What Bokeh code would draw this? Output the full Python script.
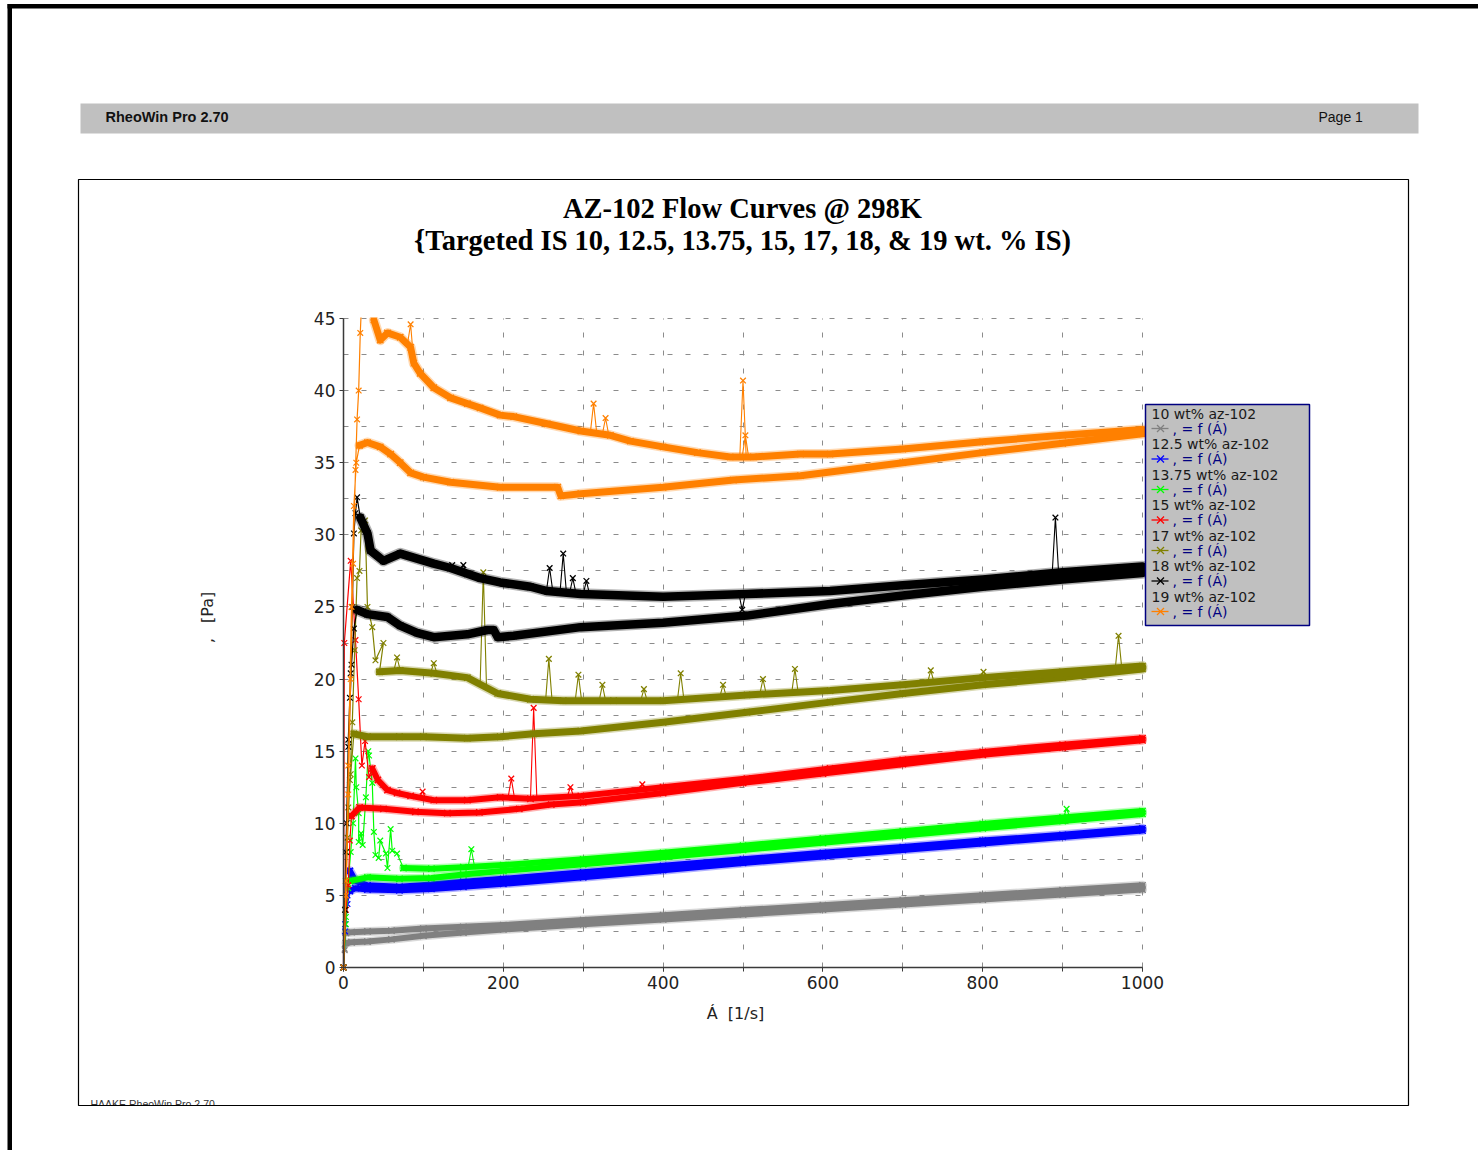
import numpy as np
from bokeh.plotting import figure
from bokeh.models import (Label, BoxAnnotation, Arrow, SingleIntervalTicker, Range1d,
                          LinearAxis, Grid)
from bokeh.embed import file_html
from bokeh.resources import INLINE

# ---------------------------------------------------------------- data
# shear rate [1/s] vs shear stress [Pa]; each sample has an up-ramp,
# a down-ramp, the low-shear start/end trace and isolated spikes.

S10_UP_X = [3, 10, 30, 60, 100, 150, 200, 300, 400, 500, 600, 700, 800, 900, 1000]
S10_UP_Y = [1.7, 1.75, 1.8, 1.95, 2.2, 2.42, 2.64, 2.99, 3.33, 3.68, 4.02, 4.37, 4.71, 5.06, 5.4]
S10_DN_X = [3, 10, 30, 60, 100, 150, 200, 300, 400, 500, 600, 700, 800, 900, 1000]
S10_DN_Y = [2.4, 2.45, 2.5, 2.55, 2.7, 2.82, 2.94, 3.29, 3.63, 3.98, 4.32, 4.67, 5.01, 5.36, 5.7]
S10_LO_X = [3, 1.5, 0, 1.5, 3]
S10_LO_Y = [2.4, 1.3, 0, 1.2, 1.7]
S10_SPK_X = []
S10_SPK_Y = []

S12_UP_X = [8, 15, 30, 70, 110, 150, 200, 300, 400, 500, 600, 700, 800, 900, 1000]
S12_UP_Y = [5.3, 5.5, 5.4, 5.35, 5.45, 5.6, 5.8, 6.25, 6.75, 7.25, 7.7, 8.15, 8.6, 9.05, 9.5]
S12_DN_X = [8, 15, 30, 70, 110, 150, 200, 300, 400, 500, 600, 700, 800, 900, 1000]
S12_DN_Y = [6.7, 6.0, 5.7, 5.6, 5.75, 5.95, 6.15, 6.6, 7.05, 7.5, 7.95, 8.35, 8.8, 9.2, 9.65]
S12_LO_X = [8, 5, 2, 0, 2, 5, 8]
S12_LO_Y = [6.7, 5.0, 3.0, 0, 2.5, 4.4, 5.3]
S12_SPK_X = []
S12_SPK_Y = []

S13_UP_X = [8, 30, 70, 110, 150, 200, 300, 400, 500, 600, 700, 800, 900, 1000]
S13_UP_Y = [6.0, 6.25, 6.15, 6.2, 6.45, 6.7, 7.15, 7.65, 8.15, 8.65, 9.15, 9.65, 10.15, 10.65]
S13_DN_X = [75, 110, 150, 200, 300, 400, 500, 600, 700, 800, 900, 1000]
S13_DN_Y = [6.9, 6.85, 6.95, 7.1, 7.5, 7.95, 8.45, 8.95, 9.45, 9.95, 10.4, 10.85]
S13_LO_X = [75, 67, 61, 59, 55, 53, 46, 44, 40, 38, 36, 32, 31, 28, 24, 22, 19, 19, 16, 15,
            12, 9, 6, 3, 0, 3, 6, 8]
S13_LO_Y = [6.9, 7.9, 8.1, 9.6, 6.9, 7.9, 8.8, 7.6, 7.8, 9.4, 12.8, 14.7, 15.0, 11.8, 8.5, 9.3,
            8.7, 10.7, 12.5, 14.5, 10.0, 8.0, 6.0, 3.0, 0, 3.5, 5.5, 6.0]
S13_SPK_X = [160, 905]
S13_SPK_Y = [8.2, 11.0]

S15_UP_X = [10, 20, 50, 90, 130, 170, 220, 260, 300, 400, 500, 600, 700, 800, 900, 1000]
S15_UP_Y = [10.5, 11.1, 11.0, 10.8, 10.7, 10.75, 11.0, 11.3, 11.45, 12.1, 12.8, 13.45, 14.1,
            14.75, 15.25, 15.75]
S15_DN_X = [36, 43, 55, 67, 84, 113, 155, 196, 234, 297, 400, 505, 609, 700, 800, 900, 1000]
S15_DN_Y = [13.8, 13.0, 12.3, 12.1, 11.9, 11.6, 11.6, 11.8, 11.7, 11.9, 12.5, 13.1, 13.8, 14.4,
            14.95, 15.45, 15.9]
S15_LO_X = [36, 32, 27, 23, 19, 15, 9, 1, 0, 3, 6, 8, 10]
S15_LO_Y = [13.8, 13.2, 15.7, 14.0, 18.6, 22.7, 28.2, 22.5, 0, 4.0, 5.7, 8.8, 10.5]
S15_SPK_X = [99, 210, 238, 284, 374]
S15_SPK_Y = [12.2, 13.1, 18.0, 12.5, 12.7]

S17_UP_X = [13, 30, 70, 100, 155, 196, 238, 297, 400, 505, 609, 700, 800, 900, 1000]
S17_UP_Y = [16.2, 16.0, 16.0, 16.0, 15.9, 16.0, 16.2, 16.4, 17.0, 17.7, 18.4, 19.0, 19.6, 20.1, 20.7]
S17_DN_X = [45, 71, 113, 155, 193, 234, 275, 338, 400, 505, 609, 700, 800, 900, 1000]
S17_DN_Y = [20.5, 20.6, 20.4, 20.1, 19.0, 18.6, 18.5, 18.5, 18.5, 18.9, 19.2, 19.6, 20.1, 20.5, 20.9]
S17_LO_X = [45, 50, 40, 36, 30, 27, 22, 20, 17, 14, 11, 8, 5, 2, 0, 3, 6, 9, 13]
S17_LO_Y = [20.5, 22.5, 21.3, 23.6, 25.0, 31.0, 30.3, 27.5, 27.0, 22.0, 17.0, 13.0, 9.0, 4.0, 0,
            6.0, 11.1, 13.4, 16.2]
S17_SPK_X = [67, 113, 175, 257, 294, 324, 376, 422, 475, 525, 565, 735, 801, 970]
S17_SPK_Y = [21.5, 21.1, 27.4, 21.4, 20.3, 19.6, 19.3, 20.4, 19.6, 20.0, 20.7, 20.6, 20.5, 23.0]

S18_UP_X = [17, 30, 55, 71, 92, 113, 155, 180, 188, 193, 213, 297, 400, 505, 609, 700, 800, 900, 1000]
S18_UP_Y = [24.8, 24.5, 24.3, 23.7, 23.2, 22.9, 23.1, 23.4, 23.4, 22.9, 23.0, 23.6, 23.9, 24.4,
            25.2, 25.8, 26.4, 26.9, 27.35]
S18_DN_X = [21, 30, 34, 50, 71, 113, 134, 155, 171, 196, 234, 255, 297, 400, 505, 609, 700, 800,
            900, 1000]
S18_DN_Y = [31.2, 30.1, 28.9, 28.2, 28.7, 28.0, 27.7, 27.3, 27.0, 26.7, 26.4, 26.1, 25.9, 25.7,
            25.9, 26.1, 26.5, 26.9, 27.4, 27.8]
S18_LO_X = [21, 17, 15, 13, 11, 9, 8, 6, 4, 2, 0, 3, 6, 10, 13, 17]
S18_LO_Y = [31.2, 32.6, 31.5, 30.1, 25.0, 20.4, 18.7, 15.8, 10.0, 4.0, 0, 8.0, 15.3, 21.0, 23.5, 24.8]
S18_SPK_X = [136, 150, 258, 275, 287, 304, 499, 891]
S18_SPK_Y = [27.9, 27.9, 27.7, 28.7, 27.0, 26.8, 24.8, 31.2]

S19_UP_X = [20, 30, 46, 59, 71, 84, 100, 134, 196, 268, 272, 297, 400, 488, 572, 700, 800, 900, 1000]
S19_UP_Y = [36.2, 36.4, 36.1, 35.6, 35.0, 34.3, 34.0, 33.65, 33.3, 33.3, 32.7, 32.85, 33.3, 33.8,
            34.1, 35.0, 35.7, 36.35, 37.0]
S19_DN_X = [38, 46, 55, 71, 84, 88, 96, 113, 134, 155, 171, 196, 213, 255, 297, 334, 359, 400, 443,
            484, 513, 572, 609, 700, 800, 900, 1000]
S19_DN_Y = [44.9, 43.5, 44.0, 43.7, 43.0, 41.9, 41.2, 40.2, 39.5, 39.1, 38.8, 38.3, 38.2, 37.7,
            37.2, 36.9, 36.5, 36.1, 35.7, 35.4, 35.4, 35.6, 35.6, 35.95, 36.45, 36.9, 37.3]
S19_LO_X = [38, 33, 27, 23, 21, 19, 17, 15, 12, 9, 6, 3, 0, 3, 6, 10, 13, 16, 20]
S19_LO_Y = [44.9, 46.5, 47.5, 46.5, 44.0, 40.0, 38.0, 34.5, 28.0, 20.0, 12.0, 5.0, 0, 6.0, 14.0,
            25.0, 32.0, 35.0, 36.2]
S19_SPK_X = [84, 313, 328, 500, 503]
S19_SPK_Y = [44.6, 39.1, 38.1, 40.7, 36.9]

SERIES_NAMES = ["10 wt% az-102", "12.5 wt% az-102", "13.75 wt% az-102", "15 wt% az-102",
                "17 wt% az-102", "18 wt% az-102", "19 wt% az-102"]
SERIES_COLORS = ["#808080", "#0000ff", "#00ff00", "#ff0000", "#808000", "#000000", "#ff8000"]
BAND_WIDTHS = [6, 6, 6, 6, 7, 8.5, 7]
LEGEND_SUB = ", = f (Á)"

TITLE_1 = "AZ-102 Flow Curves @ 298K"
TITLE_2 = "{Targeted IS 10, 12.5, 13.75, 15, 17, 18, & 19 wt. % IS)"
X_LABEL = "Á\u00a0 [1/s]"
Y_LABEL = "‚\u00a0\u00a0 [Pa]"
X_END, Y_END = 1000, 45

SERIES = [
    (S10_UP_X, S10_UP_Y, S10_DN_X, S10_DN_Y, S10_LO_X, S10_LO_Y, S10_SPK_X, S10_SPK_Y),
    (S12_UP_X, S12_UP_Y, S12_DN_X, S12_DN_Y, S12_LO_X, S12_LO_Y, S12_SPK_X, S12_SPK_Y),
    (S13_UP_X, S13_UP_Y, S13_DN_X, S13_DN_Y, S13_LO_X, S13_LO_Y, S13_SPK_X, S13_SPK_Y),
    (S15_UP_X, S15_UP_Y, S15_DN_X, S15_DN_Y, S15_LO_X, S15_LO_Y, S15_SPK_X, S15_SPK_Y),
    (S17_UP_X, S17_UP_Y, S17_DN_X, S17_DN_Y, S17_LO_X, S17_LO_Y, S17_SPK_X, S17_SPK_Y),
    (S18_UP_X, S18_UP_Y, S18_DN_X, S18_DN_Y, S18_LO_X, S18_LO_Y, S18_SPK_X, S18_SPK_Y),
    (S19_UP_X, S19_UP_Y, S19_DN_X, S19_DN_Y, S19_LO_X, S19_LO_Y, S19_SPK_X, S19_SPK_Y),
]

# ---------------------------------------------------------------- page geometry
# The whole printed page is one plot; the data scales are extended so that
# the chart area (0..1000 x 0..45) lands on its place on the page.
PAGE_W, PAGE_H = 1478, 1150
AREA_L, AREA_R, AREA_T, AREA_B = 343, 1142, 318, 967


def px_x(px):
    """page pixel column -> data x"""
    return (px - AREA_L) / (AREA_R - AREA_L) * X_END


def px_y(py):
    """page pixel row -> data y"""
    return (AREA_B - py) / (AREA_B - AREA_T) * Y_END


p = figure(width=PAGE_W, height=PAGE_H,
           x_range=Range1d(px_x(0), px_x(PAGE_W)), y_range=Range1d(px_y(PAGE_H), px_y(0)),
           x_axis_type=None, y_axis_type=None, min_border=0,
           output_backend="svg", toolbar_location=None)
p.outline_line_color = None
p.background_fill_color = "white"
p.border_fill_color = "white"

# ---------------------------------------------------------------- grid
X_GRID = SingleIntervalTicker(interval=100)
Y_GRID = SingleIntervalTicker(interval=2.5)
GRID_STYLE = dict(grid_line_color="#8c8c8c", grid_line_dash="5 13", grid_line_width=1)
if "cross_bounds" in Grid.properties():
    p.add_layout(Grid(dimension=0, ticker=X_GRID, bounds=(0, X_END), cross_bounds=(0, Y_END),
                      **GRID_STYLE))
    p.add_layout(Grid(dimension=1, ticker=Y_GRID, bounds=(0, Y_END), cross_bounds=(0, X_END),
                      **GRID_STYLE))
else:
    gx = np.arange(100, X_END + 1, 100)
    gy = np.arange(2.5, Y_END + 0.01, 2.5)
    p.segment(x0=gx, y0=0, x1=gx, y1=Y_END, line_color="#8c8c8c", line_dash="5 13")
    p.segment(x0=0, y0=gy, x1=X_END, y1=gy, line_color="#8c8c8c", line_dash="5 13")

# ---------------------------------------------------------------- curves
SPIKE_HALF = 4
for color, bw, (ux, uy, dx_, dy_, lx, ly, sx, sy) in zip(SERIES_COLORS, BAND_WIDTHS, SERIES):
    # low-shear start/end trace
    p.line(lx, ly, line_color=color, line_width=1.2)
    p.scatter(lx, ly, marker="x", size=8, line_color=color, line_width=1.2)
    # up and down ramps, drawn as dense bands of crosses
    for bx, by in ((ux, uy), (dx_, dy_)):
        p.line(bx, by, line_color=color, line_width=bw + 3, line_alpha=0.3,
               line_join="round", line_cap="round")
        p.line(bx, by, line_color=color, line_width=bw, line_join="round", line_cap="round")
        p.scatter(bx, by, marker="x", size=9, line_color=color, line_width=1.3)
    # spikes rising from the down ramp
    if sx:
        xs, ys = [], []
        for x, y in zip(sx, sy):
            xl, xr = x - SPIKE_HALF, x + SPIKE_HALF
            xs.append([xl, x, xr])
            ys.append([float(np.interp(xl, dx_, dy_)), y, float(np.interp(xr, dx_, dy_))])
        p.multi_line(xs, ys, line_color=color, line_width=1.1)
        p.scatter(sx, sy, marker="x", size=8, line_color=color, line_width=1.3)

# readings above the top of the scale are cut off
p.add_layout(BoxAnnotation(left=0.6, right=120, bottom=px_y(AREA_T - 1), top=px_y(AREA_T - 80),
                           fill_color="white", fill_alpha=1, line_color=None))

# ---------------------------------------------------------------- axes
AX_COLOR = "#3a3a3a"
xaxis = LinearAxis(fixed_location=0, bounds=(0, X_END),
                   ticker=SingleIntervalTicker(interval=200, num_minor_ticks=2))
yaxis = LinearAxis(fixed_location=0, bounds=(0, Y_END),
                   ticker=SingleIntervalTicker(interval=5, num_minor_ticks=2))
for ax in (xaxis, yaxis):
    ax.axis_line_color = AX_COLOR
    ax.axis_line_width = 1.5
    ax.major_tick_line_color = AX_COLOR
    ax.major_tick_in = 0
    ax.major_tick_out = 4
    ax.major_label_text_font = "DejaVu Sans"
    ax.major_label_text_font_size = "17px"
    ax.major_label_text_color = "#222222"
    ax.major_label_standoff = 4
xaxis.minor_tick_line_color = AX_COLOR
xaxis.minor_tick_in = 0
xaxis.minor_tick_out = 4
yaxis.minor_tick_line_color = None
p.add_layout(xaxis, "below")
p.add_layout(yaxis, "left")

# ---------------------------------------------------------------- page furniture
# footer text, its lower part hidden below the frame line
p.add_layout(Label(x=px_x(90), y=px_y(1103), text="HAAKE RheoWin Pro 2.70",
                   text_font="Liberation Sans", text_font_size="10.5px",
                   text_color="#333333", text_baseline="middle"))
p.add_layout(BoxAnnotation(left=px_x(80), right=px_x(240), top=px_y(1105.6), bottom=px_y(1114),
                           fill_color="white", fill_alpha=1, line_color=None))

# outer page edges
p.add_layout(BoxAnnotation(left=px_x(7), right=px_x(PAGE_W + 20), top=px_y(3.5), bottom=px_y(8),
                           fill_color="black", fill_alpha=1, line_color=None))
p.add_layout(BoxAnnotation(left=px_x(7), right=px_x(11.5), top=px_y(3.5), bottom=px_y(PAGE_H + 20),
                           fill_color="black", fill_alpha=1, line_color=None))

# report header bar
p.add_layout(BoxAnnotation(left=px_x(80), right=px_x(1418), top=px_y(103), bottom=px_y(133),
                           fill_color="#c0c0c0", fill_alpha=1, line_color=None))
p.add_layout(Label(x=px_x(105), y=px_y(116), text="RheoWin Pro 2.70",
                   text_font="Liberation Sans", text_font_style="bold", text_font_size="14.5px",
                   text_color="#111111", text_baseline="middle"))
p.add_layout(Label(x=px_x(1318), y=px_y(116), text="Page 1",
                   text_font="Liberation Sans", text_font_size="14px",
                   text_color="#111111", text_baseline="middle"))

# chart frame
p.add_layout(BoxAnnotation(left=px_x(78), right=px_x(1408), top=px_y(179), bottom=px_y(1105),
                           fill_color=None, fill_alpha=0, line_color="black", line_alpha=1,
                           line_width=1.2))

# titles
for text, row in ((TITLE_1, 208), (TITLE_2, 240)):
    p.add_layout(Label(x=px_x(742), y=px_y(row), text=text,
                       text_font="Liberation Serif", text_font_style="bold",
                       text_font_size="28.5px", text_color="black",
                       text_align="center", text_baseline="middle"))

# axis titles
p.add_layout(Label(x=px_x(735), y=px_y(1013), text=X_LABEL,
                   text_font="DejaVu Sans", text_font_size="16px", text_color="#222222",
                   text_align="center", text_baseline="middle"))
p.add_layout(Label(x=px_x(207), y=px_y(617), text=Y_LABEL, angle=np.pi / 2,
                   text_font="DejaVu Sans", text_font_size="16px", text_color="#222222",
                   text_align="center", text_baseline="middle"))

# legend panel
p.add_layout(BoxAnnotation(left=px_x(1145), right=px_x(1309), top=px_y(404), bottom=px_y(625),
                           fill_color="#c0c0c0", fill_alpha=1,
                           line_color="#000080", line_alpha=1, line_width=1.5))
ROW0, ROW_STEP, SUB_OFF = 413, 30.5, 15
MK = 3.5
for i, (name, color) in enumerate(zip(SERIES_NAMES, SERIES_COLORS)):
    r1 = ROW0 + i * ROW_STEP
    r2 = r1 + SUB_OFF
    p.add_layout(Label(x=px_x(1151), y=px_y(r1), text=name,
                       text_font="DejaVu Sans", text_font_size="14px",
                       text_color="#1a1a1a", text_baseline="middle"))
    p.add_layout(Arrow(x_start=px_x(1151), y_start=px_y(r2), x_end=px_x(1168), y_end=px_y(r2),
                       start=None, end=None, line_color=color, line_width=1.3))
    cx = 1160
    p.add_layout(Arrow(x_start=px_x(cx - MK), y_start=px_y(r2 - MK),
                       x_end=px_x(cx + MK), y_end=px_y(r2 + MK),
                       start=None, end=None, line_color=color, line_width=1.3))
    p.add_layout(Arrow(x_start=px_x(cx - MK), y_start=px_y(r2 + MK),
                       x_end=px_x(cx + MK), y_end=px_y(r2 - MK),
                       start=None, end=None, line_color=color, line_width=1.3))
    p.add_layout(Label(x=px_x(1172), y=px_y(r2), text=LEGEND_SUB,
                       text_font="DejaVu Sans", text_font_size="14px",
                       text_color="#000080", text_baseline="middle"))

open("out.html", "w").write(file_html(p, INLINE))
